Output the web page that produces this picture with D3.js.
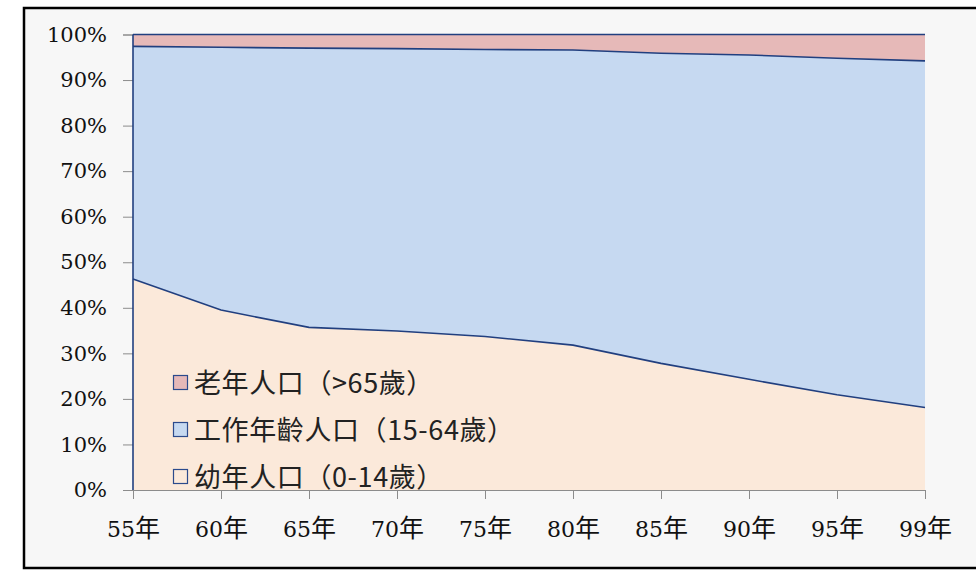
<!DOCTYPE html>
<html><head><meta charset="utf-8">
<script src="https://cdn.jsdelivr.net/npm/d3@7"></script>
<style>
html,body{margin:0;padding:0;background:#fff;}
svg{display:block;}
</style></head>
<body>
<svg id="chart" width="976" height="571"></svg>
<script>
const categories = ["55年","60年","65年","70年","75年","80年","85年","90年","95年","99年"];
const youth   = [46.3, 39.5, 35.7, 34.9, 33.7, 31.8, 27.8, 24.3, 20.9, 18.1];
const elderly = [2.6, 2.8, 3.0, 3.1, 3.3, 3.4, 4.1, 4.5, 5.2, 5.8];
const working = youth.map((v,i)=> +(100 - v - elderly[i]).toFixed(1));
const seriesNames = ["幼年人口（0-14歲）","工作年齡人口（15-64歲）","老年人口（>65歲）"];
const seriesColors = ["#fbe9da","#c6d9f1","#e6b9b8"];
const yTicks = [0,10,20,30,40,50,60,70,80,90,100];

const svg = d3.select("#chart");
svg.append("rect").attr("x",0).attr("y",0).attr("width",976).attr("height",571).attr("fill","#ffffff");
svg.append("rect").attr("x",24).attr("y",8).attr("width",960).attr("height",560)
  .attr("fill","#f7f7f7").attr("stroke","#000").attr("stroke-width",2.5);

const x = d3.scalePoint().domain(categories).range([133,925]);
const y = d3.scaleLinear().domain([0,100]).range([490,34.5]);

const rows = categories.map((c,i)=>({cat:c, y0:youth[i], y1:working[i], y2:elderly[i]}));
const stacked = d3.stack().keys(["y0","y1","y2"])(rows);

const area = d3.area().x(d=>x(d.data.cat)).y0(d=>y(d[0])).y1(d=>y(d[1]));
const line = d3.line().x(d=>x(d.data.cat)).y(d=>y(d[1]));

const axisFont = "'DejaVu Serif','Noto Sans CJK TC', serif";
const yAxis = d3.axisLeft(y).tickValues(yTicks).tickFormat(d=>d+"%").tickSize(10).tickPadding(16);
const gy = svg.append("g").attr("transform","translate(133,0)").call(yAxis);
gy.select(".domain").attr("stroke","#8c8c8c");
gy.selectAll(".tick line").attr("stroke","#8c8c8c");
gy.selectAll("text").attr("font-family",axisFont).attr("font-size",21).attr("fill","#111");

const xAxis = d3.axisBottom(x).tickSize(9).tickPadding(22).tickSizeOuter(0);
const gx = svg.append("g").attr("transform","translate(0,490)").call(xAxis);
gx.select(".domain").attr("stroke","#8c8c8c");
gx.selectAll(".tick line").attr("stroke","#8c8c8c");
gx.selectAll("text").attr("font-family",axisFont).attr("font-size",22).attr("fill","#111")
  .each(function(d){
    const t = d3.select(this); t.text(null);
    t.append("tspan").text(d.slice(0,-1));
    t.append("tspan").attr("font-family","'Noto Sans CJK TC',sans-serif").attr("font-size",25).text(d.slice(-1));
  });

svg.append("g").selectAll("path").data(stacked).join("path")
  .attr("d",area).attr("fill",(d,i)=>seriesColors[i]);
svg.append("g").selectAll("path").data(stacked).join("path")
  .attr("d",line).attr("fill","none").attr("stroke","#213f7f").attr("stroke-width",1.6);
svg.append("line").attr("x1",x(categories[0])).attr("x2",x(categories[0]))
  .attr("y1",y(0)).attr("y2",y(100)).attr("stroke","#213f7f").attr("stroke-width",1.6);

const legendItems = [2,1,0];
const lg = svg.append("g");
legendItems.forEach((si,k)=>{
  const cy = 383 + k*47;
  lg.append("rect").attr("x",173.5).attr("y",cy-7.5).attr("width",14).attr("height",14)
    .attr("fill",seriesColors[si]).attr("stroke","#2b4a8c").attr("stroke-width",1.2);
  lg.append("text").attr("x",194).attr("y",cy+9.5).text(seriesNames[si])
    .attr("font-family","'Noto Sans CJK TC','Noto Sans CJK SC',sans-serif").attr("font-size",27)
    .attr("letter-spacing",0.6).attr("fill","#222");
});
</script>
</body></html>
